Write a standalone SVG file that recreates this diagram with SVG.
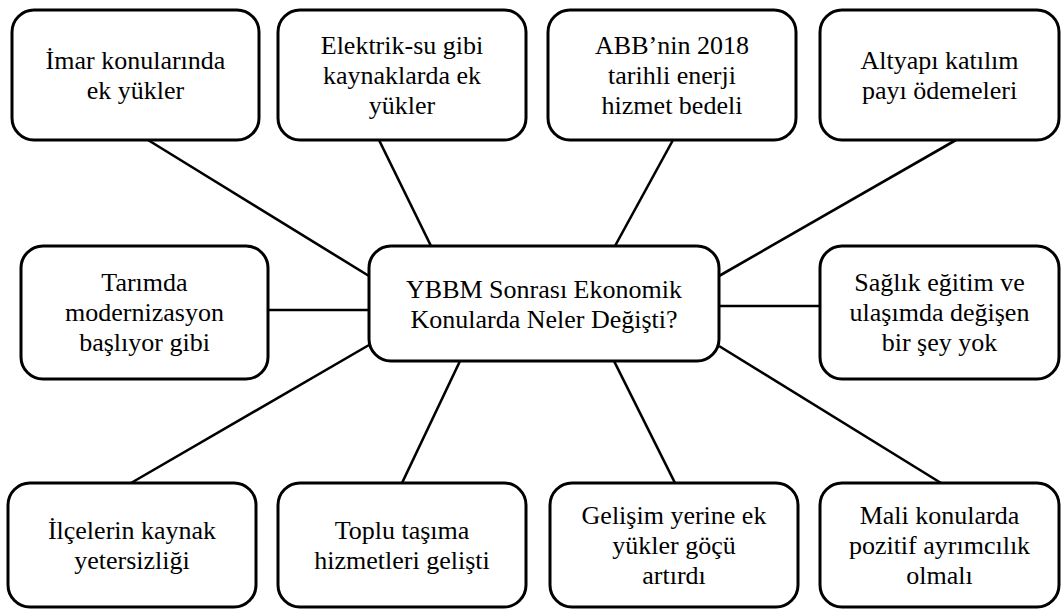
<svg xmlns="http://www.w3.org/2000/svg" width="1061" height="610" viewBox="0 0 1061 610">
<style>
.box{fill:#fff;stroke:#000;stroke-width:3}
text{font-family:'Liberation Serif','Times New Roman',serif;font-size:26px;fill:#000;text-anchor:middle}
.con line{stroke:#000;stroke-width:2.6}
</style>
<rect width="1061" height="610" fill="#fff"/>
<g class="con" id="connectors">
<line x1="148" y1="140" x2="369" y2="276"/>
<line x1="379" y1="140" x2="431" y2="246"/>
<line x1="673" y1="140" x2="615" y2="246"/>
<line x1="956" y1="140" x2="719" y2="276"/>
<line x1="268" y1="310" x2="369" y2="310"/>
<line x1="719" y1="306" x2="820" y2="306"/>
<line x1="369" y1="345" x2="131" y2="483"/>
<line x1="460" y1="361" x2="402" y2="483"/>
<line x1="614" y1="361" x2="675" y2="483"/>
<line x1="719" y1="346" x2="941" y2="483"/>
</g>
<g id="center"><rect class="box" x="369" y="246" width="350" height="115" rx="22"/>
<text x="544" y="298">YBBM Sonrası Ekonomik</text>
<text x="544" y="328">Konularda Neler Değişti?</text></g>
<g id="n1"><rect class="box" x="12" y="10" width="247" height="130" rx="22"/>
<text x="135.5" y="69">İmar konularında</text>
<text x="135.5" y="99">ek yükler</text></g>
<g id="n2"><rect class="box" x="278" y="10" width="248" height="130" rx="22"/>
<text x="402" y="54">Elektrik-su gibi</text>
<text x="402" y="84">kaynaklarda ek</text>
<text x="402" y="114">yükler</text></g>
<g id="n3"><rect class="box" x="548" y="10" width="248" height="130" rx="22"/>
<text x="672" y="54">ABB’nin 2018</text>
<text x="672" y="84">tarihli enerji</text>
<text x="672" y="114">hizmet bedeli</text></g>
<g id="n4"><rect class="box" x="820" y="10" width="239" height="130" rx="22"/>
<text x="939.5" y="69">Altyapı katılım</text>
<text x="939.5" y="99">payı ödemeleri</text></g>
<g id="n5"><rect class="box" x="21" y="246" width="247" height="133" rx="22"/>
<text x="144.5" y="291">Tarımda</text>
<text x="144.5" y="321">modernizasyon</text>
<text x="144.5" y="351">başlıyor gibi</text></g>
<g id="n6"><rect class="box" x="820" y="246" width="239" height="133" rx="22"/>
<text x="939.5" y="291">Sağlık eğitim ve</text>
<text x="939.5" y="321">ulaşımda değişen</text>
<text x="939.5" y="351">bir şey yok</text></g>
<g id="n7"><rect class="box" x="8" y="483" width="248" height="124" rx="22"/>
<text x="132" y="539">İlçelerin kaynak</text>
<text x="132" y="569">yetersizliği</text></g>
<g id="n8"><rect class="box" x="278" y="483" width="248" height="124" rx="22"/>
<text x="402" y="539">Toplu taşıma</text>
<text x="402" y="569">hizmetleri gelişti</text></g>
<g id="n9"><rect class="box" x="550" y="483" width="248" height="124" rx="22"/>
<text x="674" y="524">Gelişim yerine ek</text>
<text x="674" y="554">yükler göçü</text>
<text x="674" y="584">artırdı</text></g>
<g id="n10"><rect class="box" x="820" y="483" width="239" height="124" rx="22"/>
<text x="939.5" y="524">Mali konularda</text>
<text x="939.5" y="554">pozitif ayrımcılık</text>
<text x="939.5" y="584">olmalı</text></g>
</svg>
